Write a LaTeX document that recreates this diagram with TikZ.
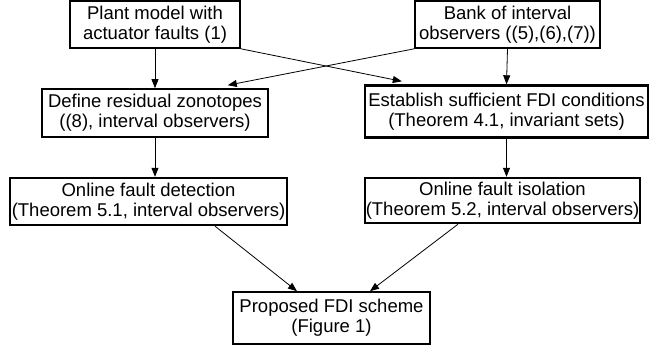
\documentclass[tikz,border=0pt]{standalone}
\usepackage{fontspec}
\setmainfont{Liberation Sans}
\usetikzlibrary{positioning,arrows.meta}
\tikzset{
  stepbox/.style={rectangle,draw,line width=1.6pt,align=center,
                  inner sep=0pt,font=\fontsize{18.5}{20}\selectfont},
  boldbox/.style={stepbox,line width=2.4pt},
  flow/.style={-{Triangle[length=9pt,width=7pt]},line width=0.8pt},
}

\begin{document}
\begin{tikzpicture}[x=1pt,y=1pt]
\useasboundingbox (0,0) rectangle (666,345);
% top row: model and observers
\node[stepbox,minimum width=170pt,minimum height=47pt] (plant) at (155,320.5)
  {Plant model with\\actuator faults (1)};
\node[stepbox,minimum width=185pt,minimum height=47pt] (bank) at (507.5,320.5)
  {Bank of interval\\observers ((5),(6),(7))};
% second row
\node[stepbox,minimum width=226pt,minimum height=48pt] (resid) at (155,232)
  {Define residual zonotopes\\((8), interval observers)};
\node[boldbox,minimum width=283pt,minimum height=52pt] (cond) at (506.5,233.5)
  {Establish sufficient FDI conditions\\(Theorem 4.1, invariant sets)};
% online tests
\node[boldbox,minimum width=277pt,minimum height=47pt] (detect) at (148.5,143.5)
  {Online fault detection\\(Theorem 5.1, interval observers)};
\node[boldbox,minimum width=275pt,minimum height=45pt] (isol) at (502.5,144.5)
  {Online fault isolation\\(Theorem 5.2, interval observers)};
% result
\node[stepbox,minimum width=197pt,minimum height=52pt] (scheme) at (331.5,27)
  {Proposed FDI scheme\\(Figure 1)};

\draw[flow] (plant.south) -- (resid.north);
\draw[flow] (bank.south) -- (cond.north);
\draw[flow] (plant.south east) -- ([xshift=38pt,yshift=3pt]cond.north west);
\draw[flow] (bank.south west) -- ([xshift=-41pt,yshift=3pt]resid.north east);
\draw[flow] (resid.south) -- (detect.north -| resid.south);
\draw[flow] (cond.south) -- (isol.north -| cond.south);
\draw[flow] ([xshift=66.5pt]detect.south) -- ([xshift=-34.5pt]scheme.north);
\draw[flow] ([xshift=-44.5pt]isol.south) -- ([xshift=38.5pt]scheme.north);
\end{tikzpicture}
\end{document}
